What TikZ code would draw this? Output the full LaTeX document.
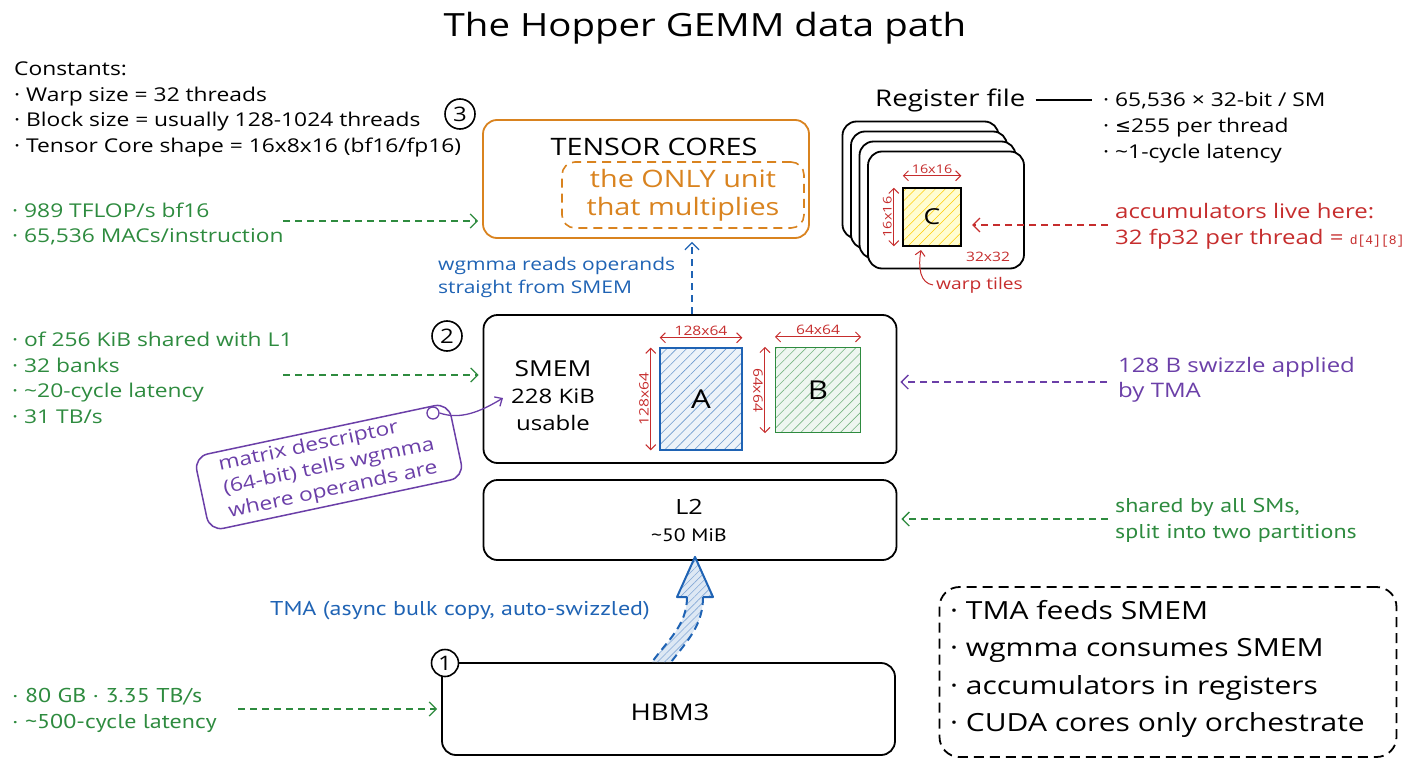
\documentclass[tikz,border=0pt]{standalone}
\usepackage{fontspec}
\setmainfont{Open Sans}[FakeStretch=1.2]
\newfontfamily\narrowf{PT Sans}[FakeStretch=1.2]
\newfontfamily\djv{DejaVu Sans}
\setmonofont{Liberation Mono}
\usetikzlibrary{arrows.meta,patterns.meta,calc}
\newcommand\fz[2]{\fontsize{#1}{#2}\selectfont}
\definecolor{cOr}{HTML}{D9831F}
\definecolor{cGr}{HTML}{2E8B3F}
\definecolor{cBl}{HTML}{1F63B4}
\definecolor{cRd}{HTML}{C62D2D}
\definecolor{cPu}{HTML}{6B3FA8}
\tikzset{
  box/.style={draw, line width=1.8pt, rounded corners=14pt},
  numc/.style={circle, draw, line width=1.6pt, minimum size=30pt, inner sep=0pt, font=\fz{20}{20}},
  tip/.style={-{Straight Barb[length=7pt,width=14pt]}},
  garr/.style={cGr, line width=1.3pt, dash pattern=on 7pt off 5pt, tip, shorten >=4pt},
  barr/.style={cBl, line width=1.3pt, dash pattern=on 7pt off 5pt, tip, shorten >=3pt},
  parr/.style={cPu, line width=1.3pt, dash pattern=on 7pt off 5pt, tip, shorten >=3pt},
  rarr/.style={cRd, line width=1.3pt, dash pattern=on 7pt off 5pt, tip},
  gtext/.style={text=cGr, align=left, font=\fz{19}{25.5}, inner sep=0pt},
  tile/.style={line width=1.2pt, pattern={Lines[angle=45,distance=7pt,line width=0.6pt]}, font=\fz{26}{26}, inner sep=0pt},
  dim/.style={cRd, line width=1pt, {Straight Barb[length=5pt,width=10pt]}-{Straight Barb[length=5pt,width=10pt]}},
  dimlbl/.style={text=cRd, font=\fz{13}{13}, inner sep=1.5pt},
  card/.style={draw, fill=white, line width=1.8pt, rounded corners=14pt, minimum width=156pt, minimum height=117pt},
}
\begin{document}
\begin{tikzpicture}[x=1pt,y=-1pt]
\useasboundingbox (0,0) rectangle (1408,768);

% title
\node[font=\fz{32}{36}] (title) at (705,28) {The Hopper GEMM data path};

% constants
\node[anchor=north west, align=left, inner sep=0pt, font=\fz{19}{25.5}] (const) at (14,62)
 {Constants:\\· Warp size = 32 threads\\· Block size = usually 128-1024 threads\\· Tensor Core shape = 16x8x16 (bf16/fp16)};

% tensor cores
\node[numc] (n3) at (460,114) {3};
\node[box, draw=cOr, minimum width=326pt, minimum height=118pt] (tc) at (646,179) {};
\node[font=\fz{24}{26}] (tclbl) at (654,147) {TENSOR CORES};
\node[draw=cOr, dash pattern=on 9pt off 6pt, line width=1.6pt, rounded corners=13pt, minimum width=242pt, minimum height=66pt, text=cOr, align=center, font=\fz{24}{28}] (only) at (683,195) {the ONLY unit\\that multiplies};

\node[gtext, anchor=west] (tcinfo) at (12,224) {· 989 TFLOP/s bf16\\· 65,536 MACs/instruction};
\coordinate (g1) at (283,221);
\draw[garr] (g1) -- (g1 -| tc.west);

\node[anchor=west, text=cBl, align=left, font=\fz{17.5}{23}, inner sep=0pt] (wgtxt) at (438,277) {wgmma reads operands\\straight from SMEM};

% SMEM
\node[numc] (n2) at (447,336) {2};
\node[box, minimum width=413pt, minimum height=148pt] (smem) at (690,389) {};
\coordinate (wgx) at (692,0);
\draw[barr] (smem.north -| wgx) -- (tc.south -| wgx);
\node[align=center, font=\fz{20}{27}] (smemlbl) at (553,396) {{\fz{22}{27}SMEM}\\228 KiB\\usable};

\node[tile, draw=cBl, pattern color=cBl!65, preaction={fill=cBl!8}, minimum width=82pt, minimum height=102pt] (A) at (701,399) {A};
\node[tile, draw=cGr, pattern color=cGr!65, preaction={fill=cGr!8}, minimum width=85pt, minimum height=85pt] (B) at (818,390) {B};
\draw[dim] ([yshift=10pt]A.north west) -- ([yshift=10pt]A.north east) node[dimlbl, midway, above] (Atop) {128x64};
\draw[dim] ([xshift=-9pt]A.north west) -- ([xshift=-9pt]A.south west) node[dimlbl, midway, rotate=90, anchor=south] (Aleft) {128x64};
\draw[dim] ([yshift=10pt]B.north west) -- ([yshift=10pt]B.north east) node[dimlbl, midway, above] (Btop) {64x64};
\draw[dim] ([xshift=-10pt]B.north west) -- ([xshift=-10pt]B.south west) node[dimlbl, midway, rotate=-90, anchor=north] (Bleft) {64x64};

\node[anchor=west, text=cPu, align=left, font=\fz{20}{25}, inner sep=0pt] (swz) at (1118,380) {128 B swizzle applied\\by TMA};
\coordinate (swzs) at (1107,382);
\draw[parr] (swzs) -- (swzs -| smem.east);

\node[gtext, anchor=west] (sminfo) at (12,378) {· of 256 KiB shared with L1\\· 32 banks\\· \textasciitilde20-cycle latency\\· 31 TB/s};
\coordinate (g2) at (283,375);
\draw[garr] (g2) -- (g2 -| smem.west);

% matrix descriptor
\node[draw=cPu, line width=1.5pt, rounded corners=14pt, rotate=12, text=cPu, align=left, font=\fz{19}{24}, minimum width=260pt, minimum height=76pt] (md) at (329,467) {matrix descriptor\\(64-bit) tells wgmma\\where operands are};
\node[circle, draw=cPu, line width=1.3pt, minimum size=12pt, inner sep=0pt] (mdc) at (433,413) {};
\coordinate (mdend) at (503,398);
\draw[cPu, line width=1.3pt, -{Straight Barb[length=6pt,width=11pt]}] (mdc.east) .. controls (460,420) and (480,412) .. (mdend);

% L2
\node[box, minimum width=413pt, minimum height=80pt] (l2) at (690,520) {};
\node[font=\fz{21}{24}] (l2a) at (689,507) {L2};
\node[font=\narrowf\fz{18}{20}] (l2b) at (689,535) {\textasciitilde50 MiB};
\node[anchor=west, text=cGr, align=left, font=\narrowf\fz{20}{26}, inner sep=0pt] (l2i) at (1115,520) {shared by all SMs,\\split into two partitions};
\coordinate (g3) at (1108,519);
\draw[garr] (g3) -- (g3 -| l2.east);

% HBM
\node[box, minimum width=453pt, minimum height=92pt] (hbm) at (668.5,709) {};
\node[font=\fz{23}{26}] (hbml) at (670,712) {HBM3};
\node[numc, fill=white, minimum size=27pt] (n1) at (445,663) {1};
\node[anchor=west, text=cGr, align=left, font=\narrowf\fz{20}{26}, inner sep=0pt] (hbmi) at (12,710) {· 80 GB · 3.35 TB/s\\· \textasciitilde500-cycle latency};
\coordinate (g4) at (238,709);
\draw[garr] (g4) -- (g4 -| hbm.west);

% TMA arrow
\node[anchor=east, text=cBl, font=\narrowf\fz{20}{24}, inner sep=0pt] (tmal) at (650,611) {TMA (async bulk copy, auto-swizzled)};
\coordinate (tmaT) at ([xshift=5pt,yshift=4pt]l2.south);
\coordinate (hl) at (677,597);
\coordinate (hr) at (713,597);
\coordinate (bl) at (687,597);
\coordinate (br) at (703,597);
\coordinate (bbl) at (hbm.north -| 652,0);
\coordinate (bbr) at (hbm.north -| 671,0);
\path[fill=cBl!15] (tmaT) -- (hr) -- (br) .. controls (703,625) and (688,640) .. (bbr) -- (bbl) .. controls (668,640) and (687,625) .. (bl) -- (hl) -- cycle;
\path[pattern={Lines[angle=45,distance=5pt,line width=0.6pt]}, pattern color=cBl!55] (tmaT) -- (hr) -- (br) .. controls (703,625) and (688,640) .. (bbr) -- (bbl) .. controls (668,640) and (687,625) .. (bl) -- (hl) -- cycle;
\draw[cBl, line width=2pt, line join=round] (bl) -- (hl) -- (tmaT) -- (hr) -- (br);
\draw[cBl, line width=2pt, dash pattern=on 8pt off 5pt] (br) .. controls (703,625) and (688,640) .. (bbr);
\draw[cBl, line width=2pt, dash pattern=on 8pt off 5pt] (bl) .. controls (687,625) and (668,640) .. (bbl);

% register file
\foreach \i in {3,2,1,0} \node[card] (card\i) at ({946-8.5*\i},{210-10*\i}) {};
\node[line width=1.2pt, draw, minimum size=58pt, inner sep=0pt, preaction={fill=yellow!18}, pattern={Lines[angle=45,distance=7pt,line width=0.5pt]}, pattern color=yellow!60!orange, font=\fz{22}{22}] (C) at (932,217) {C};
\draw[dim] ([yshift=12pt]C.north west) -- ([yshift=12pt]C.north east) node[dimlbl, midway, above, font=\fz{12}{12}] (Ctop) {16x16};
\draw[dim] ([xshift=-9pt]C.north west) -- ([xshift=-9pt]C.south west) node[dimlbl, midway, rotate=90, anchor=south, font=\fz{12}{12}] (Cleft) {16x16};
\node[dimlbl] (c32) at (988,257) {32x32};
\node[anchor=west, text=cRd, font=\fz{16}{18}, inner sep=0pt] (wt) at (936,285) {warp tiles};
\coordinate (wtc) at (921,250);
\draw[cRd, line width=1pt, -{Straight Barb[length=5pt,width=10pt]}] ([xshift=-3pt]wt.west) .. controls (920,283) and (918,268) .. (wtc);

\node[font=\fz{23}{26}, anchor=west, inner sep=0pt] (rf) at (875,100) {Register file};
\coordinate (rfl) at (1092,100);
\draw[line width=1.3pt] ([xshift=10pt]rf.east) -- (rfl);
\node[anchor=west, inner sep=0pt, align=left, font=\fz{19}{26}] (rfi) at (1103,128) {· 65,536 × 32-bit / SM\\· {\djv ≤}255 per thread\\· \textasciitilde1-cycle latency};

\coordinate (accs) at (1108,225);
\draw[rarr] (accs) -- (accs -| 972,0);
\node[anchor=west, text=cRd, align=left, font=\fz{20}{26}, inner sep=0pt] (acc) at (1115,226) {accumulators live here:\\32 fp32 per thread = {\ttfamily\fz{13}{26}d[4][8]}};

% summary
\node[draw, dash pattern=on 10pt off 6pt, line width=1.8pt, rounded corners=20pt, minimum width=457pt, minimum height=170pt] (sumbox) at (1168,672) {};
\node[anchor=west, align=left, font=\fz{25}{37.5}, inner sep=0pt] (sum) at (950,669) {· TMA feeds SMEM\\· wgmma consumes SMEM\\· accumulators in registers\\· CUDA cores only orchestrate};
\end{tikzpicture}
\end{document}
